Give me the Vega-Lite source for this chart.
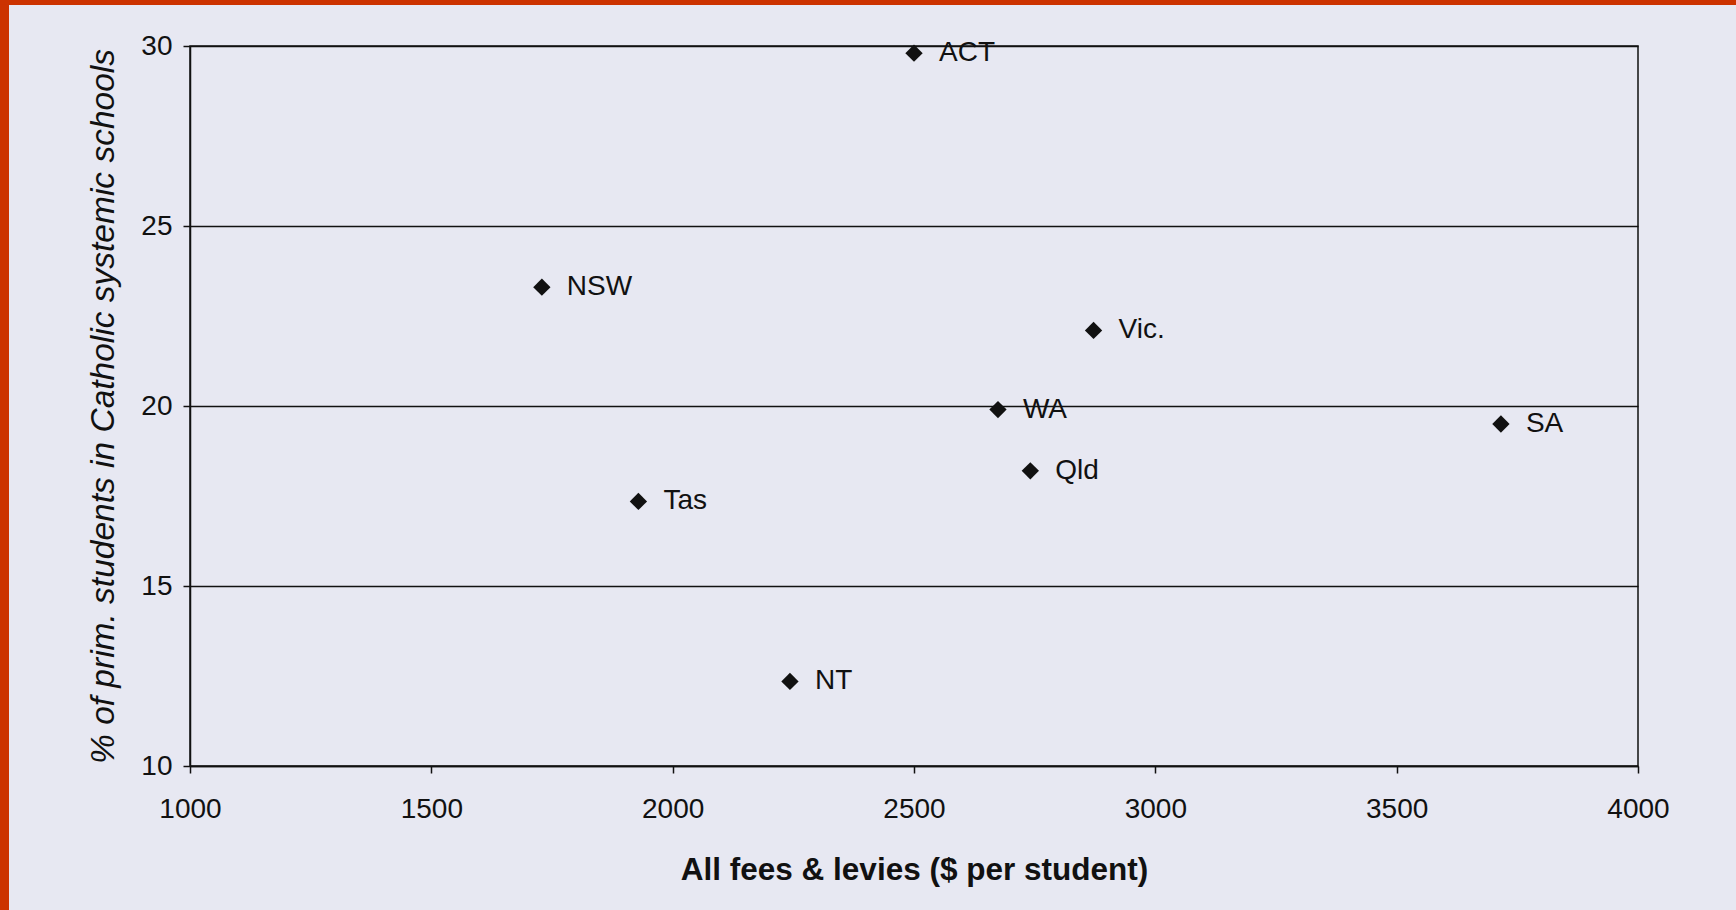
{
  "$schema": "https://vega.github.io/schema/vega-lite/v6.json",
  "autosize": "none",
  "width": 1448,
  "height": 720,
  "padding": {"left": 190, "top": 46, "right": 98, "bottom": 144},
  "background": "#e7e8f2",
  "config": {
    "font": "Liberation Sans",
    "view": {"stroke": "#111111", "strokeWidth": 1.5},
    "axis": {
      "domainColor": "#111111",
      "domainWidth": 1.5,
      "tickColor": "#111111",
      "tickWidth": 1.5,
      "tickSize": 7,
      "labelColor": "#111111",
      "titleColor": "#111111",
      "labelFont": "Liberation Sans",
      "titleFont": "Liberation Sans",
      "labelFontSize": 28,
      "labelFontWeight": "normal",
      "labelFlush": false
    }
  },
  "data": {
    "values": [
      {"state": "ACT", "fees": 2500, "pct": 29.8},
      {"state": "NSW", "fees": 1729, "pct": 23.3},
      {"state": "Vic.", "fees": 2872, "pct": 22.1},
      {"state": "WA", "fees": 2674, "pct": 19.9},
      {"state": "SA", "fees": 3716, "pct": 19.5},
      {"state": "Qld", "fees": 2741, "pct": 18.2},
      {"state": "Tas", "fees": 1929, "pct": 17.35},
      {"state": "NT", "fees": 2243, "pct": 12.35}
    ]
  },
  "encoding": {
    "x": {
      "field": "fees",
      "type": "quantitative",
      "scale": {"domain": [1000, 4000], "nice": false, "zero": false},
      "axis": {
        "title": "All fees & levies ($ per student)",
        "values": [1000, 1500, 2000, 2500, 3000, 3500, 4000],
        "format": "d",
        "grid": false,
        "labelPadding": 22,
        "titleFontSize": 31.5,
        "titleFontWeight": "bold",
        "titlePadding": 31
      }
    },
    "y": {
      "field": "pct",
      "type": "quantitative",
      "scale": {"domain": [10, 30], "nice": false, "zero": false},
      "axis": {
        "title": "% of prim. students in Catholic systemic schools",
        "values": [10, 15, 20, 25, 30],
        "grid": true,
        "gridColor": "#111111",
        "gridWidth": 1.5,
        "gridOpacity": 1,
        "labelPadding": 11,
        "titleFontSize": 33.5,
        "titleFontStyle": "italic",
        "titleFontWeight": "normal",
        "titlePadding": 20
      }
    }
  },
  "layer": [
    {
      "mark": {"type": "point", "shape": "diamond", "filled": true, "size": 300, "color": "#111111", "opacity": 1}
    },
    {
      "mark": {"type": "text", "align": "left", "baseline": "middle", "dx": 25, "dy": 0, "fontSize": 28, "color": "#111111"},
      "encoding": {"text": {"field": "state", "type": "nominal"}}
    },
    {
      "mark": {"type": "rect", "color": "#cc3300", "clip": false},
      "encoding": {
        "x": {"datum": 400, "type": "quantitative"},
        "x2": {"datum": 624},
        "y": {"datum": 0, "type": "quantitative"},
        "y2": {"datum": 40}
      }
    },
    {
      "mark": {"type": "rect", "color": "#cc3300", "clip": false},
      "encoding": {
        "x": {"datum": 400, "type": "quantitative"},
        "x2": {"datum": 5000},
        "y": {"datum": 31.15, "type": "quantitative"},
        "y2": {"datum": 40}
      }
    }
  ]
}
